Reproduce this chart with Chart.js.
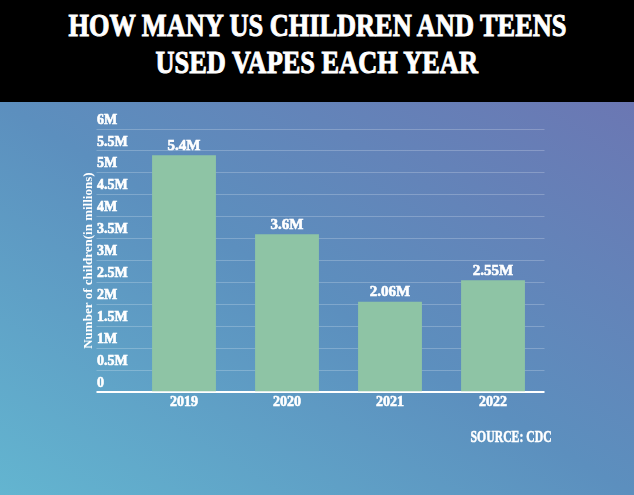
<!DOCTYPE html>
<html>
<head>
<meta charset="utf-8">
<script src="https://cdn.jsdelivr.net/npm/chart.js@4/dist/chart.umd.min.js"></script>
<style>
  html, body { margin: 0; padding: 0; }
  body { width: 634px; height: 495px; position: relative; overflow: hidden; background: #000; }
  #bg { position: absolute; left: 0; top: 102px; width: 634px; height: 393px;
        background: linear-gradient(to top right, #63b5d0 0%, #5c8fbe 50%, #6b77b3 100%); }
  #titleBand { position: absolute; left: 0; top: 0; width: 634px; height: 102px; background: #000; z-index: 2; }
  .tline { position: absolute; left: 0; width: 634px; text-align: center; color: #fff; white-space: nowrap;
           font-family: "Liberation Serif", serif; font-weight: bold; font-size: 32px; line-height: 32px;
           -webkit-text-stroke: 1px #fff; }
  .tline span { display: inline-block; transform-origin: center center; }
  #l1 { top: 9px; }
  #l2 { top: 46px; }
  #source { position: absolute; right: 82px; top: 428px; color: #fff; white-space: nowrap;
            font-family: "Liberation Serif", serif; font-weight: bold; font-size: 17px; line-height: 18px; z-index: 2;
            -webkit-text-stroke: 0.6px #fff; }
  #source span { display: inline-block; transform-origin: right center; }
  #wrap { position: absolute; left: 0; top: 0; width: 634px; height: 495px; z-index: 1; }
</style>
</head>
<body>
<div id="bg"></div>
<div id="titleBand">
  <div class="tline" id="l1"><span id="s1">HOW MANY US CHILDREN AND TEENS</span></div>
  <div class="tline" id="l2"><span id="s2">USED VAPES EACH YEAR</span></div>
</div>
<div id="source"><span id="srcText">SOURCE: CDC</span></div>
<div id="wrap"><canvas id="c" width="634" height="495"></canvas></div>
<script>
// ---- data ----
const years = ['2019', '2020', '2021', '2022'];
const users = [5.4, 3.6, 2.06, 2.55];
const barLabels = ['5.4M', '3.6M', '2.06M', '2.55M'];
const yTickLabels = ['0', '0.5M', '1M', '1.5M', '2M', '2.5M', '3M', '3.5M', '4M', '4.5M', '5M', '5.5M', '6M'];
const yAxisTitle = 'Number of children(in millions)';

// ---- fit title / source widths ----
function fitWidth(el, target) {
  const w = el.getBoundingClientRect().width;
  const k = target / w;
  el.style.transform = 'scaleX(' + k + ')';
  return k;
}
const k1 = fitWidth(document.getElementById('s1'), 498);
document.getElementById('s2').style.transform = 'scaleX(' + k1 + ')';
fitWidth(document.getElementById('srcText'), 81);

const FONT = '"Liberation Serif", serif';

const barLabelPlugin = {
  id: 'barLabels',
  afterDatasetsDraw(chart) {
    const ctx = chart.ctx;
    const meta = chart.getDatasetMeta(0);
    ctx.save();
    ctx.fillStyle = '#ffffff';
    ctx.strokeStyle = '#ffffff';
    ctx.lineWidth = 0.6;
    ctx.font = 'bold 15px ' + FONT;
    ctx.textAlign = 'center';
    ctx.textBaseline = 'bottom';
    meta.data.forEach((bar, i) => {
      ctx.fillText(barLabels[i], bar.x, bar.y - 2);
      ctx.strokeText(barLabels[i], bar.x, bar.y - 2);
    });
    ctx.restore();
  }
};

new Chart(document.getElementById('c'), {
  type: 'bar',
  data: {
    labels: years,
    datasets: [{
      data: users,
      backgroundColor: '#8ec4a5',
      borderWidth: 0,
      categoryPercentage: 1,
      barPercentage: 0.62
    }]
  },
  options: {
    responsive: false,
    animation: false,
    devicePixelRatio: 1,
    layout: { padding: { left: 78, top: 129, right: 89.5, bottom: 82 } },
    plugins: { legend: { display: false }, tooltip: { enabled: false } },
    scales: {
      x: {
        grid: { display: false, drawTicks: false },
        border: { display: false },
        ticks: { color: '#ffffff', textStrokeColor: '#ffffff', textStrokeWidth: 0.6,
                 font: { family: FONT, weight: 'bold', size: 14 }, padding: 2, maxRotation: 0 }
      },
      y: {
        min: 0, max: 6,
        afterFit(scale) { scale.width = 54.5; },
        border: { display: false },
        grid: {
          color: (c) => (c.tick && c.tick.value === 0) ? '#ffffff' : 'rgba(255,255,255,0.22)',
          lineWidth: (c) => (c.tick && c.tick.value === 0) ? 2 : 1,
          tickLength: 36,
          drawTicks: true
        },
        ticks: {
          stepSize: 0.5,
          mirror: true,
          crossAlign: 'near',
          padding: -35.5,
          labelOffset: -9,
          color: '#ffffff',
          textStrokeColor: '#ffffff',
          textStrokeWidth: 0.6,
          font: { family: FONT, weight: 'bold', size: 14 },
          callback: (v, i) => yTickLabels[i]
        },
        title: {
          display: true,
          text: yAxisTitle,
          color: '#ffffff',
          font: { family: FONT, weight: 'bold', size: 13 },
          padding: { top: 3, bottom: 0 }
        }
      }
    }
  },
  plugins: [barLabelPlugin]
});
</script>
</body>
</html>
